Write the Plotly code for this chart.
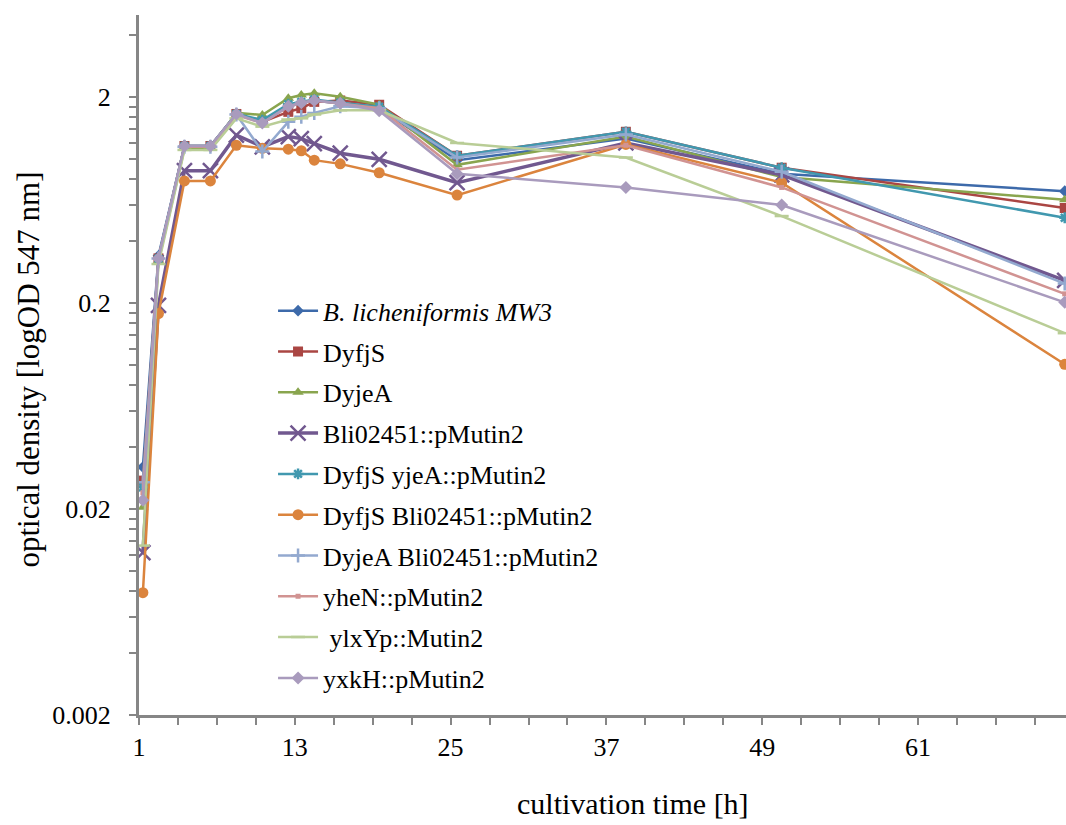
import numpy as np
import plotly.graph_objects as go

hours = [1.3, 2.5, 4.5, 6.5, 8.5, 10.5, 12.5, 13.5, 14.5, 16.5, 19.5, 25.5, 38.5, 50.5, 72.3]

mw3 = [0.032, 0.34, 1.16, 1.16, 1.65, 1.52, 1.81, 1.88, 1.93, 1.87, 1.77, 0.99, 1.26, 0.85, 0.70]
dyfjs = [0.0275, 0.33, 1.16, 1.16, 1.66, 1.52, 1.70, 1.77, 1.90, 1.93, 1.84, 1.04, 1.36, 0.91, 0.58]
dyjea = [0.0204, 0.32, 1.13, 1.13, 1.68, 1.64, 1.98, 2.05, 2.09, 2.01, 1.84, 0.94, 1.29, 0.82, 0.636]
bli = [0.0123, 0.195, 0.88, 0.88, 1.31, 1.15, 1.29, 1.26, 1.19, 1.07, 1.00, 0.77, 1.20, 0.84, 0.258]
dyfjs_yjea = [0.0255, 0.33, 1.16, 1.16, 1.66, 1.55, 1.85, 1.90, 1.95, 1.88, 1.80, 1.04, 1.36, 0.91, 0.52]
dyfjs_bli = [0.00785, 0.178, 0.785, 0.785, 1.17, 1.13, 1.12, 1.10, 0.99, 0.95, 0.86, 0.67, 1.18, 0.77, 0.101]
dyjea_bli = [0.027, 0.33, 1.15, 1.15, 1.65, 1.09, 1.52, 1.61, 1.68, 1.81, 1.77, 1.02, 1.32, 0.87, 0.249]
yhen = [0.024, 0.33, 1.15, 1.15, 1.64, 1.50, 1.80, 1.88, 1.93, 1.87, 1.77, 0.89, 1.17, 0.73, 0.222]
ylxyp = [0.0133, 0.31, 1.11, 1.11, 1.58, 1.44, 1.56, 1.58, 1.65, 1.73, 1.73, 1.20, 1.02, 0.53, 0.143]
yxkh = [0.0221, 0.33, 1.16, 1.16, 1.66, 1.50, 1.81, 1.88, 1.93, 1.87, 1.72, 0.85, 0.73, 0.60, 0.202]

names = ["<i>B. licheniformis MW3</i>", "DyfjS", "DyjeA", "Bli02451::pMutin2",
         "DyfjS yjeA::pMutin2", "DyfjS Bli02451::pMutin2", "DyjeA Bli02451::pMutin2",
         "yheN::pMutin2", " ylxYp::Mutin2", "yxkH::pMutin2"]
series = [mw3, dyfjs, dyjea, bli, dyfjs_yjea, dyfjs_bli, dyjea_bli, yhen, ylxyp, yxkh]

x_tick_vals = [1, 13, 25, 37, 49, 61]
x_tick_text = ["1", "13", "25", "37", "49", "61"]
y_tick_vals = [0.002, 0.02, 0.2, 2]
y_tick_text = ["0.002", "0.02", "0.2", "2"]
x_title = "cultivation time [h]"
y_title = "optical density [logOD 547 nm]"

colors = ["#3D6AAA", "#AA4643", "#89A54E", "#71588F", "#4198AF", "#DB843D",
          "#93A9CF", "#D19392", "#B9CD96", "#A99BBD"]
symbols = ["diamond", "square", "triangle-up", "x-thin-open", "asterisk-open", "circle",
           "cross-thin-open", "square", "line-ew-open", "diamond"]
sizes = [9, 10, 10, 15, 9, 11, 10, 5, 10, 10]
widths = [2.5, 2.5, 2.5, 3.5, 2.5, 2.5, 2.5, 2.5, 2.5, 2.5]

fig = go.Figure()
for i, (nm, ys) in enumerate(zip(names, series)):
    fig.add_trace(go.Scatter(
        x=hours, y=ys, name=nm, mode="lines+markers", legendgroup=str(i),
        line=dict(color=colors[i], width=widths[i]),
        marker=dict(symbol=symbols[i], size=sizes[i], color=colors[i],
                    line=dict(color=colors[i], width=2.5 if "open" in symbols[i] else 0)),
    ))

font_family = "Liberation Serif, DejaVu Serif, serif"
axis_col = "#868686"

# minor ticks: multiples of each decade's base value (Excel style)
y_minor = []
for dec in [0.002, 0.02, 0.2, 2]:
    for m in range(2, 10):
        v = round(dec * m, 6)
        if v <= 5.0:
            y_minor.append(v)

fig.update_layout(
    width=1066, height=825,
    paper_bgcolor="white", plot_bgcolor="white",
    margin=dict(l=139, r=0, t=15, b=110),
    font=dict(family=font_family, size=26, color="#000000"),
    showlegend=True,
    legend=dict(x=0.1446, y=0.611, xanchor="left", yanchor="top",
                bgcolor="rgba(0,0,0,0)", font=dict(size=26, family=font_family),
                tracegroupgap=4, itemwidth=40),
    xaxis=dict(
        range=[1, 72.4], showgrid=False, zeroline=False, automargin=False,
        showline=True, linecolor=axis_col, linewidth=3,
        ticks="outside", tickcolor=axis_col, tickwidth=2, ticklen=7,
        tickmode="array", tickvals=x_tick_vals, ticktext=x_tick_text,
        minor=dict(ticks="outside", tickmode="array", tickvals=list(range(4, 73, 3)),
                   ticklen=7, tickwidth=2, tickcolor=axis_col, showgrid=False),
        tickfont=dict(size=26, family=font_family),
    ),
    yaxis=dict(
        type="log", range=[np.log10(0.002), np.log10(5.02)],
        showgrid=False, zeroline=False, automargin=False,
        showline=True, linecolor=axis_col, linewidth=3,
        ticks="outside", tickcolor=axis_col, tickwidth=2, ticklen=7,
        tickmode="array", tickvals=y_tick_vals, ticktext=y_tick_text,
        ticklabelstandoff=13,
        minor=dict(ticks="outside", tickmode="array", tickvals=y_minor,
                   ticklen=7, tickwidth=2, tickcolor=axis_col, showgrid=False),
        tickfont=dict(size=26, family=font_family),
    ),
    annotations=[
        dict(text=x_title, xref="paper", yref="paper", x=0.533, y=-0.126,
             xanchor="center", yanchor="middle", showarrow=False,
             font=dict(size=30, family=font_family)),
        dict(text=y_title, xref="paper", yref="paper", x=-0.119, y=0.493,
             xanchor="center", yanchor="middle", showarrow=False, textangle=-90,
             font=dict(size=31, family=font_family)),
    ],
)

fig.write_html("out.html", config={"displayModeBar": False},
               post_script="document.body.style.margin='0';document.body.style.padding='0';")
